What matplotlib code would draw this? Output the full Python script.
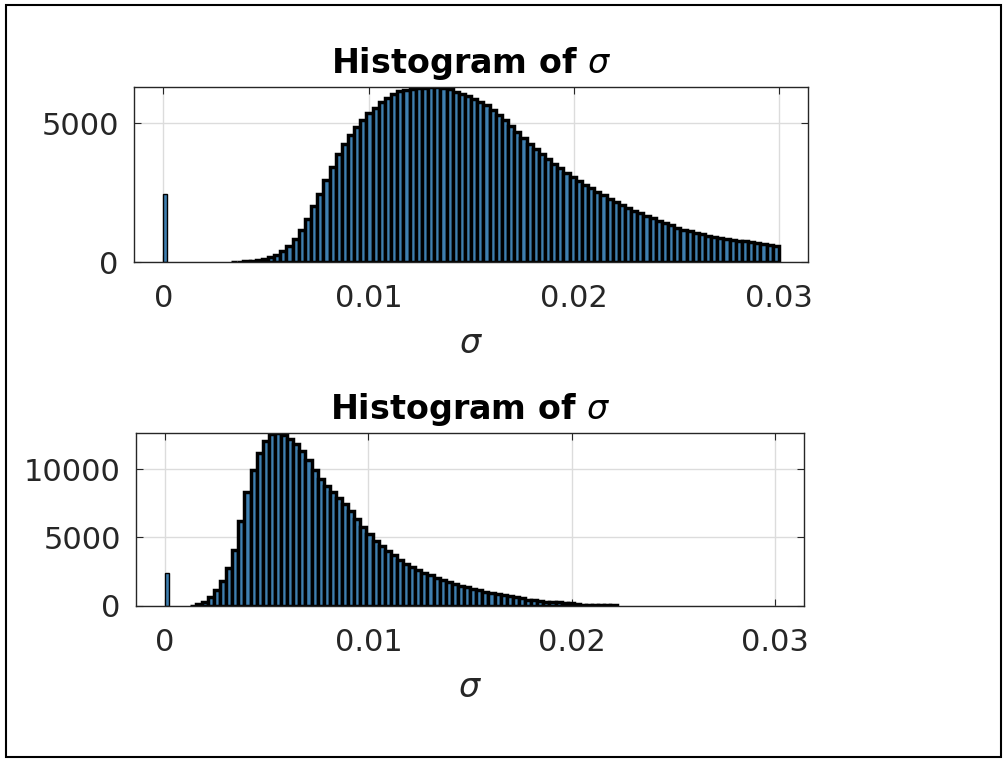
import numpy as np
import matplotlib.pyplot as plt
from matplotlib.patches import Rectangle

# histogram data: counts per bin of width bin_width, first bin starting at *_first_edge
bin_width = 0.0003

top_zero_count = 2450
top_first_edge = 0.0033
top_counts = [
    8, 15, 28, 45, 75, 115, 180, 270, 400, 580,
    830, 1150, 1550, 2000, 2450, 2950, 3430, 3870, 4250, 4580,
    4870, 5120, 5350, 5560, 5750, 5920, 6050, 6140, 6200, 6240,
    6270, 6250, 6290, 6300, 6260, 6210, 6130, 6050, 5960, 5870,
    5760, 5640, 5480, 5300, 5110, 4910, 4670, 4450, 4260, 4050,
    3870, 3690, 3530, 3370, 3220, 3070, 2920, 2780, 2650, 2520,
    2400, 2280, 2160, 2050, 1950, 1850, 1750, 1660, 1570, 1480,
    1400, 1320, 1240, 1170, 1110, 1050, 1000, 950, 910, 870,
    830, 800, 770, 740, 710, 680, 650, 620, 560,
]

bot_zero_count = 2410
bot_first_edge = 0.0012
bot_counts = [
    15, 110, 320, 650, 1150, 1850, 2750, 4100, 6200, 8300,
    9900, 11150, 12050, 12550, 12630, 12480, 12200, 11800, 11300, 10650,
    9950, 9300, 8750, 8300, 7900, 7420, 6900, 6350, 5800, 5250,
    4780, 4350, 4000, 3700, 3380, 3100, 2830, 2600, 2410, 2230,
    2060, 1900, 1760, 1620, 1480, 1360, 1240, 1130, 1040, 950,
    870, 790, 700, 620, 550, 470, 410, 360, 320, 290,
    260, 230, 190, 110, 100, 90, 85, 80, 70, 60,
]

xticks = [0, 0.01, 0.02, 0.03]
xticklabels = ['0', '0.01', '0.02', '0.03']
top_yticks = [0, 5000]
bot_yticks = [0, 5000, 10000]

bar_color = '#3f7fb0'
text_color = '#262626'

fig = plt.figure(figsize=(10.07, 7.63), dpi=100)
fig.patch.set_facecolor('white')

ax1 = fig.add_axes([0.1331, 0.6566, 0.6693, 0.2294])
ax2 = fig.add_axes([0.1351, 0.2058, 0.6634, 0.2267])


def draw_hist(ax, first_edge, counts, zero_count, yticks):
    counts = np.asarray(counts)
    edges = first_edge + bin_width * np.arange(len(counts))
    ax.bar(edges, counts, width=bin_width, align='edge', color=bar_color,
           edgecolor='black', linewidth=2.5, zorder=2)
    ax.bar([0], [zero_count], width=0.0002, align='edge', color=bar_color,
           edgecolor='black', linewidth=1.0, zorder=2)

    ax.set_xlim(-0.00143, 0.03142)
    ax.set_ylim(0, counts.max())
    ax.set_xticks(xticks)
    ax.set_xticklabels(xticklabels)
    ax.set_yticks(yticks)
    ax.set_yticklabels([str(t) for t in yticks])

    ax.grid(True, color='#dcdcdc', linewidth=1.0)
    ax.set_axisbelow(True)
    ax.tick_params(direction='in', length=5, width=0.8, top=True, right=True,
                   labelsize=22, colors=text_color)
    ax.tick_params(axis='y', pad=11)
    ax.tick_params(axis='x', pad=16)
    for s in ax.spines.values():
        s.set_color(text_color)
        s.set_linewidth(1.0)
        s.set_zorder(3)

    ax.set_title(r'Histogram of $\sigma$', fontsize=24, fontweight='bold',
                 color='black', pad=10)
    ax.set_xlabel(r'$\sigma$', fontsize=24, color=text_color, labelpad=10)


draw_hist(ax1, top_first_edge, top_counts, top_zero_count, top_yticks)
draw_hist(ax2, bot_first_edge, bot_counts, bot_zero_count, bot_yticks)

# outer frame around the figure
fig.patches.append(Rectangle((6 / 1007, 1 - 757 / 763), 995 / 1007, 752 / 763,
                             transform=fig.transFigure, fill=False,
                             edgecolor='black', linewidth=1.5))

fig.savefig('out.png', dpi=100)
